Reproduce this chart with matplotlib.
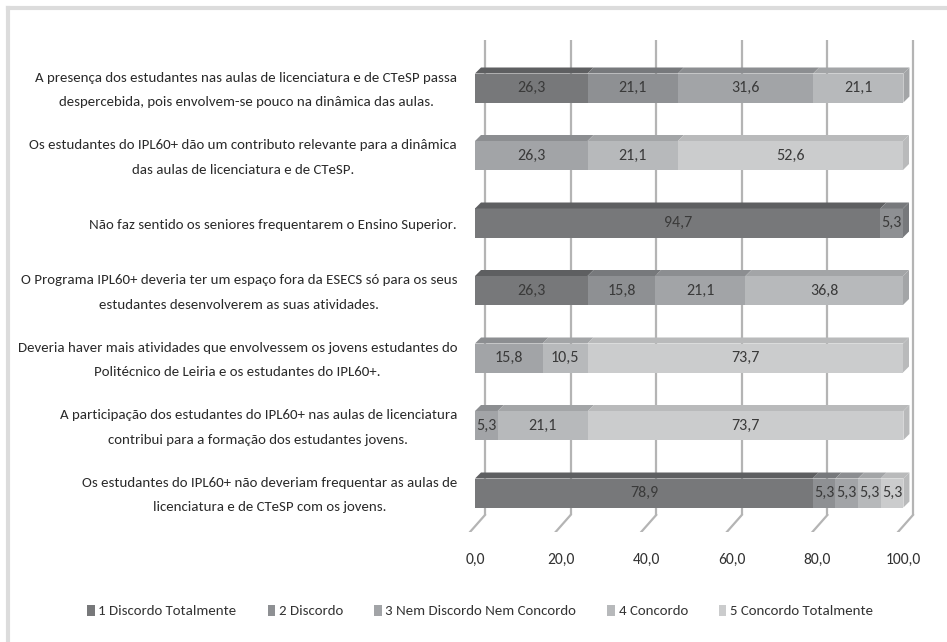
import matplotlib.pyplot as plt
from matplotlib.patches import Polygon, Rectangle
from matplotlib.lines import Line2D
import numpy as np

plt.rcParams['font.family'] = ['Carlito', 'Roboto Condensed', 'DejaVu Sans']

statements = [
    "A presença dos estudantes nas aulas de licenciatura e de CTeSP passa\ndespercebida, pois envolvem-se pouco na dinâmica das aulas.",
    "Os estudantes do IPL60+ dão um contributo relevante para a dinâmica\ndas aulas de licenciatura e de CTeSP.",
    "Não faz sentido os seniores frequentarem o Ensino Superior.",
    "O Programa IPL60+ deveria ter um espaço fora da ESECS só para os seus\nestudantes desenvolverem as suas atividades.",
    "Deveria haver mais atividades que envolvessem os jovens estudantes do\nPolitécnico de Leiria e os estudantes do IPL60+.",
    "A participação dos estudantes do IPL60+ nas aulas de licenciatura\ncontribui para a formação dos estudantes jovens.",
    "Os estudantes do IPL60+ não deveriam frequentar as aulas de\nlicenciatura e de CTeSP com os jovens.",
]
# one row per statement, columns = answer 1..5 (percent)
discordo_total = [26.3, 0.0, 94.7, 26.3, 0.0, 0.0, 78.9]
discordo = [21.1, 0.0, 5.3, 15.8, 0.0, 0.0, 5.3]
nem_nem = [31.6, 26.3, 0.0, 21.1, 15.8, 5.3, 5.3]
concordo = [21.1, 21.1, 0.0, 36.8, 10.5, 21.1, 5.3]
concordo_total = [0.0, 52.6, 0.0, 0.0, 73.7, 73.7, 5.3]

legend_labels = ["1 Discordo Totalmente", "2 Discordo", "3 Nem Discordo Nem Concordo",
                 "4 Concordo", "5 Concordo Totalmente"]
xticks = [0, 20, 40, 60, 80, 100]

colors = ["#77787a", "#8e9093", "#a2a4a7", "#b7b9bb", "#cbcccd"]
tops = ["#5e5f61", "#77797c", "#8c8e91", "#a3a5a7", "#b9babb"]

series = np.array([discordo_total, discordo, nem_nem, concordo, concordo_total])

FS = 10.7

fig = plt.figure(figsize=(9.47, 6.42), dpi=100)

# outer frame (top and left edges only visible)
fig.add_artist(Line2D([8 / 947, 8 / 947], [0, 1 - 8 / 642], transform=fig.transFigure,
                      color="#dcdcdc", lw=3))
fig.add_artist(Line2D([8 / 947, 1], [1 - 8 / 642, 1 - 8 / 642], transform=fig.transFigure,
                      color="#dcdcdc", lw=3))

# axes: x 0..100 maps to px 475..903, bars spaced 67.5 px
px_x = 100 / 428.0
px_y = 1 / 67.5
x_left, x_right = 460, 925
y_top, y_bot = 40, 532
ax = fig.add_axes([x_left / 947, 1 - y_bot / 642, (x_right - x_left) / 947, (y_bot - y_top) / 642])
ax.set_xlim(-(475 - x_left) * px_x, 100 + (x_right - 903) * px_x)
ybar7 = 493
ax.set_ylim(-(y_bot - ybar7) * px_y, 6 + (88 - y_top) * px_y)
ax.axis("off")

# back wall gridlines + floor ticks
back_dx = 10 * px_x
floor_y = -(515 - ybar7) * px_y
for t in xticks:
    ax.plot([t + back_dx, t + back_dx], [floor_y, 6 + (88 - y_top) * px_y],
            color="#b4b4b4", lw=1.6, zorder=1, solid_capstyle="butt")
    ax.plot([t + back_dx, t + back_dx - 15 * px_x], [floor_y, floor_y - 17 * px_y],
            color="#b4b4b4", lw=1.6, zorder=1)
    ax.text(t, floor_y - 45 * px_y, f"{t:.1f}".replace(".", ","), ha="center", va="center",
            fontsize=FS + 0.5, color="#333333", clip_on=False)

h = 29 * px_y
ddx = 6 * px_x
ddy = 6 * px_y
n = len(statements)
for i in range(n):
    y = 6 - i
    left = 0.0
    last_color = None
    for k in range(5):
        w = series[k][i]
        if w <= 0:
            continue
        ax.add_patch(Rectangle((left, y - h / 2), w, h, facecolor=colors[k], edgecolor="none", zorder=3))
        ax.add_patch(Polygon([(left, y + h / 2), (left + w, y + h / 2),
                              (left + w + ddx, y + h / 2 + ddy), (left + ddx, y + h / 2 + ddy)],
                             closed=True, facecolor=tops[k], edgecolor="none", zorder=3))
        ax.text(left + w / 2, y, f"{w:.1f}".replace(".", ","), ha="center", va="center",
                fontsize=FS + 0.8, color="#3a3a3a", zorder=5)
        left += w
        last_color = tops[k]
    ax.add_patch(Polygon([(left, y - h / 2), (left + ddx, y - h / 2 + ddy),
                          (left + ddx, y + h / 2 + ddy), (left, y + h / 2)],
                         closed=True, facecolor=last_color, edgecolor="none", zorder=3))
    ax.text(-18 * px_x, y - 2 * px_y, statements[i], ha="right", va="center", multialignment="center",
            fontsize=FS, color="#2a2a2a", linespacing=2.25)

handles = [Rectangle((0, 0), 1, 1, facecolor=c, edgecolor="none") for c in colors]
fig.legend(handles, legend_labels, loc="center", bbox_to_anchor=(0.507, 1 - 611 / 642),
           ncol=5, frameon=False, fontsize=FS, handlelength=0.5, handleheight=0.8,
           handletextpad=0.25, columnspacing=2.1, labelcolor="#333333")

fig.savefig("out.png", dpi=100, facecolor="white")
